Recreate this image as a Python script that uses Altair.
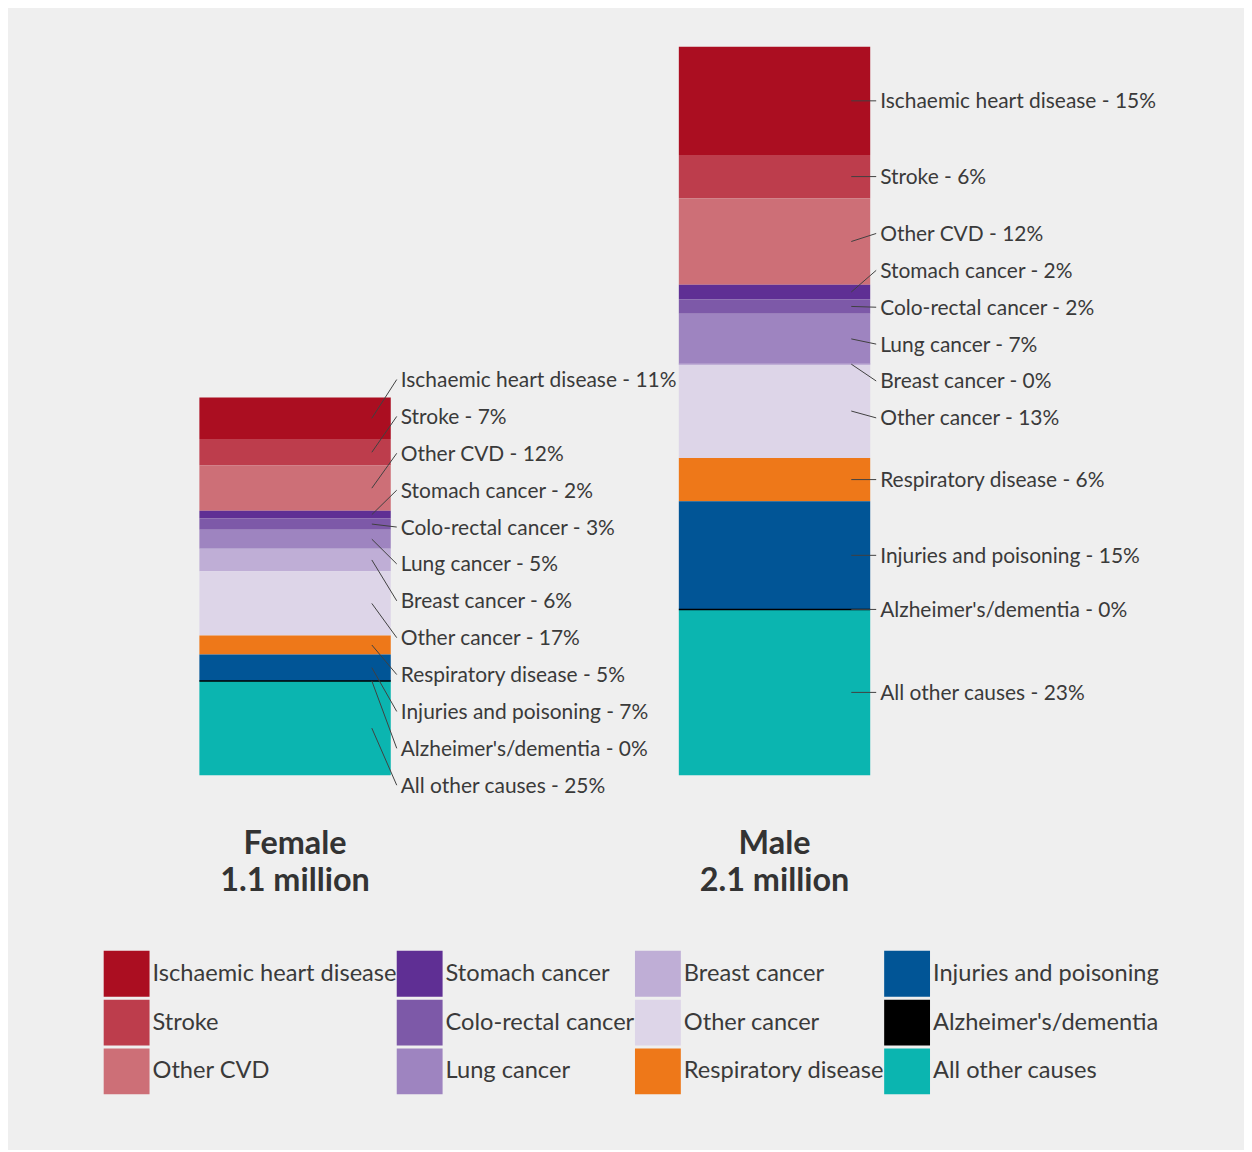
import altair as alt
import pandas as pd

# ---------------- data ----------------
causes = [
    "Ischaemic heart disease", "Stroke", "Other CVD", "Stomach cancer",
    "Colo-rectal cancer", "Lung cancer", "Breast cancer", "Other cancer",
    "Respiratory disease", "Injuries and poisoning", "Alzheimer's/dementia",
    "All other causes",
]
colors = [
    "#ab0e21", "#bd3d4c", "#cd6f77", "#5f2f94", "#7d59a8", "#9e84c0",
    "#bfaed6", "#ddd5e8", "#ee7819", "#015596", "#000000", "#0bb5b0",
]
genders = ["Female", "Male"]
totals_million = [1.1, 2.1]
totals_text = ["1.1 million", "2.1 million"]
female_pct = [11, 7, 12, 2, 3, 5, 6, 17, 5, 7, 0, 25]
male_pct = [15, 6, 12, 2, 2, 7, 0, 13, 6, 15, 0, 23]

# ---------------- layout helpers ----------------
Y_TOP_PX, Y_BOTTOM_PX = 37, 768
LABEL_GAP_PX = 37.0
LABEL_MARGIN_PX = 18


def spread(desired, gap, lo, hi):
    """Spread label positions (increasing downward) to keep a minimum gap."""
    def place(c):
        n = len(c)
        offs = [(i - (n - 1) / 2) * gap for i in range(n)]
        center = sum(d - o for d, o in zip(c, offs)) / n
        center = max(center, lo - offs[0])
        center = min(center, hi - offs[-1])
        return [center + o for o in offs]

    clusters = []
    for d in desired:
        clusters.append([d])
        while len(clusters) > 1 and place(clusters[-1])[0] - place(clusters[-2])[-1] < gap - 1e-9:
            last = clusters.pop()
            clusters[-1].extend(last)
    out = []
    for c in clusters:
        out.extend(place(c))
    return out


series = {"Female": female_pct, "Male": male_pct}
stack_tops = {g: sum(series[g]) / 100 * t for g, t in zip(genders, totals_million)}
ymax = max(stack_tops.values())
unit_per_px = ymax / (Y_BOTTOM_PX - Y_TOP_PX)

rows = []
for g, total in zip(genders, totals_million):
    pcts = series[g]
    cur = stack_tops[g]
    segs = []
    for cause, p in zip(causes, pcts):
        v = p / 100 * total
        y1 = cur
        y0 = cur - v
        cur = y0
        segs.append((cause, p, y0, y1, (y0 + y1) / 2))
    desired = [-s[4] for s in segs]
    margin = LABEL_MARGIN_PX * unit_per_px
    pos = spread(desired, LABEL_GAP_PX * unit_per_px, -(stack_tops[g] + margin), margin)
    for (cause, p, y0, y1, mid), lp in zip(segs, pos):
        rows.append(dict(gender=g, cause=cause, pct=p, y0=y0, y1=y1, mid=mid, label_y=-lp))

df = pd.DataFrame(rows)
titles = pd.DataFrame({"gender": genders, "total": totals_text})

FONT = "Lato"
TEXT_COLOR = "#3a3a3a"

xscale = alt.Scale(type="point", domain=genders, range=[288, 769], padding=0)
yscale = alt.Scale(domain=[0, ymax], range=[Y_BOTTOM_PX, Y_TOP_PX], nice=False, zero=False)
X = alt.X("gender:N", scale=xscale, axis=None)

# legend fills column by column (3 rows x 4 columns)
color = alt.Color(
    "cause:N",
    scale=alt.Scale(domain=causes, range=colors),
    legend=alt.Legend(
        title=None, orient="none", legendX=96, legendY=944, columns=4,
        symbolType="square", symbolSize=2116, symbolStrokeWidth=0, symbolOpacity=1,
        labelFont=FONT, labelFontSize=23.7, labelColor=TEXT_COLOR, labelOffset=3,
        columnPadding=0, rowPadding=3, padding=0, labelLimit=400, gridAlign="each",
    ),
)

base = alt.Chart(df)

bars = base.mark_bar(size=192).encode(
    x=X,
    y=alt.Y("y0:Q", scale=yscale, axis=None),
    y2="y1:Q",
    color=color,
)

zero_lines = base.transform_filter("datum.pct == 0").mark_rule(
    xOffset=-96, x2Offset=96, strokeWidth=1.5
).encode(
    x=X, x2="gender:N", y=alt.Y("y0:Q", scale=yscale, axis=None), color=color,
)

leaders = base.mark_rule(color="#404040", strokeWidth=1, xOffset=77, x2Offset=102).encode(
    x=X, x2="gender:N",
    y=alt.Y("mid:Q", scale=yscale, axis=None), y2="label_y:Q",
)

labels = base.transform_calculate(
    label="datum.cause + ' - ' + datum.pct + '%'"
).mark_text(
    align="left", baseline="middle", dx=106, dy=1.5, font=FONT, fontSize=21, color=TEXT_COLOR,
).encode(
    x=X, y=alt.Y("label_y:Q", scale=yscale, axis=None), text="label:N",
)

group_titles = alt.Chart(titles).transform_calculate(
    title="datum.gender + '\\n' + datum.total"
).mark_text(
    align="center", baseline="middle", lineBreak="\n", lineHeight=37,
    font=FONT, fontSize=32.5, fontWeight="bold", color="#333333",
).encode(
    x=X, y=alt.value(837), text="title:N",
)

chart = alt.layer(bars, zero_lines, leaders, labels, group_titles).properties(
    width=1240, height=1142,
    autosize=alt.AutoSizeParams(type="none"),
    padding=0,
    background="#efefef",
).configure_view(stroke=None)

chart.save("out.html", embed_options={"renderer": "svg", "actions": False})
